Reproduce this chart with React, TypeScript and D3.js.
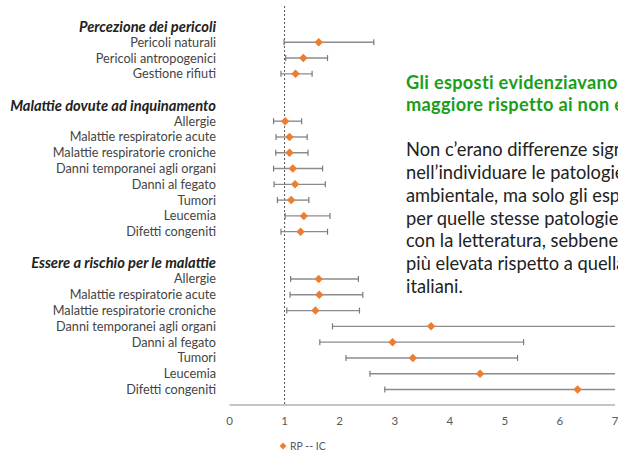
import React from "react";
import * as d3 from "d3";

type Row = { label: string; header?: boolean; rp?: number; lo?: number; hi?: number };

const headers = ["Percezione dei pericoli", "Malattie dovute ad inquinamento", "Essere a rischio per le malattie"];
const group1Labels = ["Pericoli naturali", "Pericoli antropogenici", "Gestione rifiuti"];
const group1RP = [1.62, 1.34, 1.2];
const group1Lo = [0.99, 1.02, 0.935];
const group1Hi = [2.62, 1.78, 1.5];

const diseaseLabels = [
  "Allergie",
  "Malattie respiratorie acute ",
  "Malattie respiratorie croniche",
  "Danni temporanei agli organi",
  "Danni al fegato",
  "Tumori",
  "Leucemia",
  "Difetti congeniti",
];
const group2RP = [1.01, 1.09, 1.09, 1.15, 1.19, 1.12, 1.35, 1.29];
const group2Lo = [0.8, 0.845, 0.84, 0.8, 0.81, 0.87, 1.01, 0.935];
const group2Hi = [1.31, 1.41, 1.425, 1.69, 1.74, 1.44, 1.825, 1.78];
const group3RP = [1.62, 1.63, 1.56, 3.66, 2.96, 3.33, 4.55, 6.32];
const group3Lo = [1.11, 1.1, 1.04, 1.87, 1.64, 2.115, 2.55, 2.82];
const group3Hi = [2.34, 2.42, 2.36, 7.6, 5.34, 5.23, 7.8, 8.4];

const xTicks = [0, 1, 2, 3, 4, 5, 6, 7];
const legendLabel = "RP -- IC";

const titleLines = ["Gli esposti evidenziavano", "maggiore rispetto ai non esposti"];
const bodyLines = [
  "Non c’erano differenze significative",
  "nell’individuare le patologie",
  "ambientale, ma solo gli esposti",
  "per quelle stesse patologie.",
  "con la letteratura, sebbene",
  "più elevata rispetto a quella",
  "italiani.",
];

function buildRows(): Row[] {
  const rows: Row[] = [];
  rows.push({ label: headers[0], header: true });
  group1Labels.forEach((l, i) => rows.push({ label: l, rp: group1RP[i], lo: group1Lo[i], hi: group1Hi[i] }));
  rows.push({ label: "" });
  rows.push({ label: headers[1], header: true });
  diseaseLabels.forEach((l, i) => rows.push({ label: l, rp: group2RP[i], lo: group2Lo[i], hi: group2Hi[i] }));
  rows.push({ label: "" });
  rows.push({ label: headers[2], header: true });
  diseaseLabels.forEach((l, i) => rows.push({ label: l, rp: group3RP[i], lo: group3Lo[i], hi: group3Hi[i] }));
  return rows;
}

export default function App() {
  const W = 618;
  const H = 456;
  const rows = buildRows();
  const x = d3.scaleLinear().domain([0, 7]).range([229.5, 615]);
  const y = d3
    .scalePoint<number>()
    .domain(rows.map((_, i) => i))
    .range([26.5, 389.5]);
  const axisY = 405;
  const labelX = 216;
  const clamp = (v: number) => Math.min(Math.max(v, 0), 7);
  const diamond = d3.symbol().type(d3.symbolDiamond2).size(46)();

  return (
    <svg
      width={W}
      height={H}
      style={{ position: "absolute", left: 0, top: 0, background: "#fff" }}
      fontFamily="Lato, 'Open Sans', sans-serif"
    >
      <defs>
        <clipPath id="plotclip">
          <rect x={0} y={0} width={W} height={H} />
        </clipPath>
      </defs>
      <line x1={x(1)} x2={x(1)} y1={6} y2={axisY} stroke="#555" strokeWidth={1} strokeDasharray="2,2" />
      {rows.map((r, i) => {
        const yy = y(i)!;
        if (r.header) {
          return (
            <text
              key={i}
              x={labelX}
              y={yy}
              dy="0.35em"
              textAnchor="end"
              fontSize={14.7}
              fontWeight="bold"
              fontStyle="italic"
              fill="#222"
            >
              {r.label}
            </text>
          );
        }
        if (!r.label) return null;
        const lo = r.lo!;
        const hi = r.hi!;
        return (
          <g key={i}>
            <text x={labelX} y={yy} dy="0.35em" textAnchor="end" fontSize={12.7} fill="#444">
              {r.label}
            </text>
            <line x1={x(clamp(lo))} x2={x(clamp(hi))} y1={yy} y2={yy} stroke="#8c8c8c" strokeWidth={1.4} />
            {lo >= 0 && lo <= 7 && (
              <line x1={x(lo)} x2={x(lo)} y1={yy - 3} y2={yy + 3} stroke="#7a7a7a" strokeWidth={1.2} />
            )}
            {hi >= 0 && hi <= 7 && (
              <line x1={x(hi)} x2={x(hi)} y1={yy - 3} y2={yy + 3} stroke="#7a7a7a" strokeWidth={1.2} />
            )}
            <path d={diamond!} transform={`translate(${x(r.rp!)},${yy})`} fill="#ED7D31" />
          </g>
        );
      })}
      <line x1={x(0)} x2={x(7)} y1={axisY} y2={axisY} stroke="#8a8a8a" strokeWidth={1} />
      {xTicks.map((t) => (
        <text key={t} x={x(t)} y={421} dy="0.35em" textAnchor="middle" fontSize={11.5} fill="#595959">
          {t}
        </text>
      ))}
      <path d={diamond!} transform={`translate(${283},${446}) scale(0.8)`} fill="#ED7D31" />
      <text x={290} y={446} dy="0.35em" fontSize={10.5} fill="#595959">
        {legendLabel}
      </text>
      <g clipPath="url(#plotclip)">
        {titleLines.map((l, i) => (
          <text
            key={l}
            x={406}
            y={83 + i * 22}
            dy="0.35em"
            fontSize={18.2}
            fontWeight="bold"
            letterSpacing={0.3}
            fill="#1a9e1a"
          >
            {l}
          </text>
        ))}
        {bodyLines.map((l, i) => (
          <text key={l} x={406} y={150 + i * 22.7} dy="0.35em" fontSize={18.3} fill="#222">
            {l}
          </text>
        ))}
      </g>
    </svg>
  );
}
